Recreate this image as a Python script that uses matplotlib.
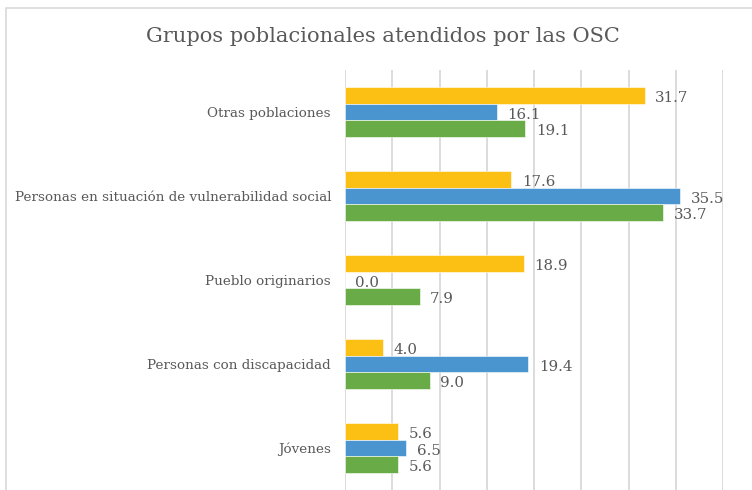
import numpy as np
import matplotlib.pyplot as plt
from matplotlib.patches import Rectangle

categories = ['Otras poblaciones',
              'Personas en situación de vulnerabilidad social',
              'Pueblo originarios',
              'Personas con discapacidad',
              'Jóvenes']
yellow_vals = [31.7, 17.6, 18.9, 4.0, 5.6]
blue_vals = [16.1, 35.5, 0.0, 19.4, 6.5]
green_vals = [19.1, 33.7, 7.9, 9.0, 5.6]

plt.rcParams['font.family'] = ['DejaVu Serif']
txt_color = '#595959'

fig = plt.figure(figsize=(7.52, 4.9), dpi=100)
# chart frame (cropped at right and bottom)
fig.patches.append(Rectangle((6/752, -0.1), 1.2, (490-8)/490 + 0.1,
                             transform=fig.transFigure, fill=False,
                             edgecolor='#D9D9D9', lw=1.2))

ax = fig.add_axes([345/752, 0.0, (723-345)/752, (490-70)/490])

y = np.arange(len(categories))
h = 0.2
series = [(yellow_vals, '#FCBF14', -h), (blue_vals, '#4A95D0', 0), (green_vals, '#69AC47', h)]
for vals, col, off in series:
    ax.barh(y + off, vals, height=h, color=col, edgecolor='white', linewidth=0.4, zorder=3)
    for yi, v in zip(y, vals):
        ax.text(v + 1.1, yi + off + 0.03, f'{v:.1f}', va='center', ha='left',
                fontsize=10.8, color=txt_color)

ax.set_xlim(0, 40)
ax.set_ylim(len(categories) - 0.5, -0.5)
ax.set_xticks(np.arange(0, 45, 5))
ax.set_xticklabels([])
ax.set_yticks(y)
ax.set_yticklabels(categories, fontsize=9.7, color=txt_color)
ax.tick_params(length=0, pad=10)
ax.grid(axis='x', color='#D9D9D9', lw=1.3, zorder=0)
for s in ax.spines.values():
    s.set_visible(False)

fig.text(383/752, 1 - 36/490, 'Grupos poblacionales atendidos por las OSC',
         ha='center', va='center', fontsize=15.1, color=txt_color)

fig.savefig('out.png', dpi=100)
